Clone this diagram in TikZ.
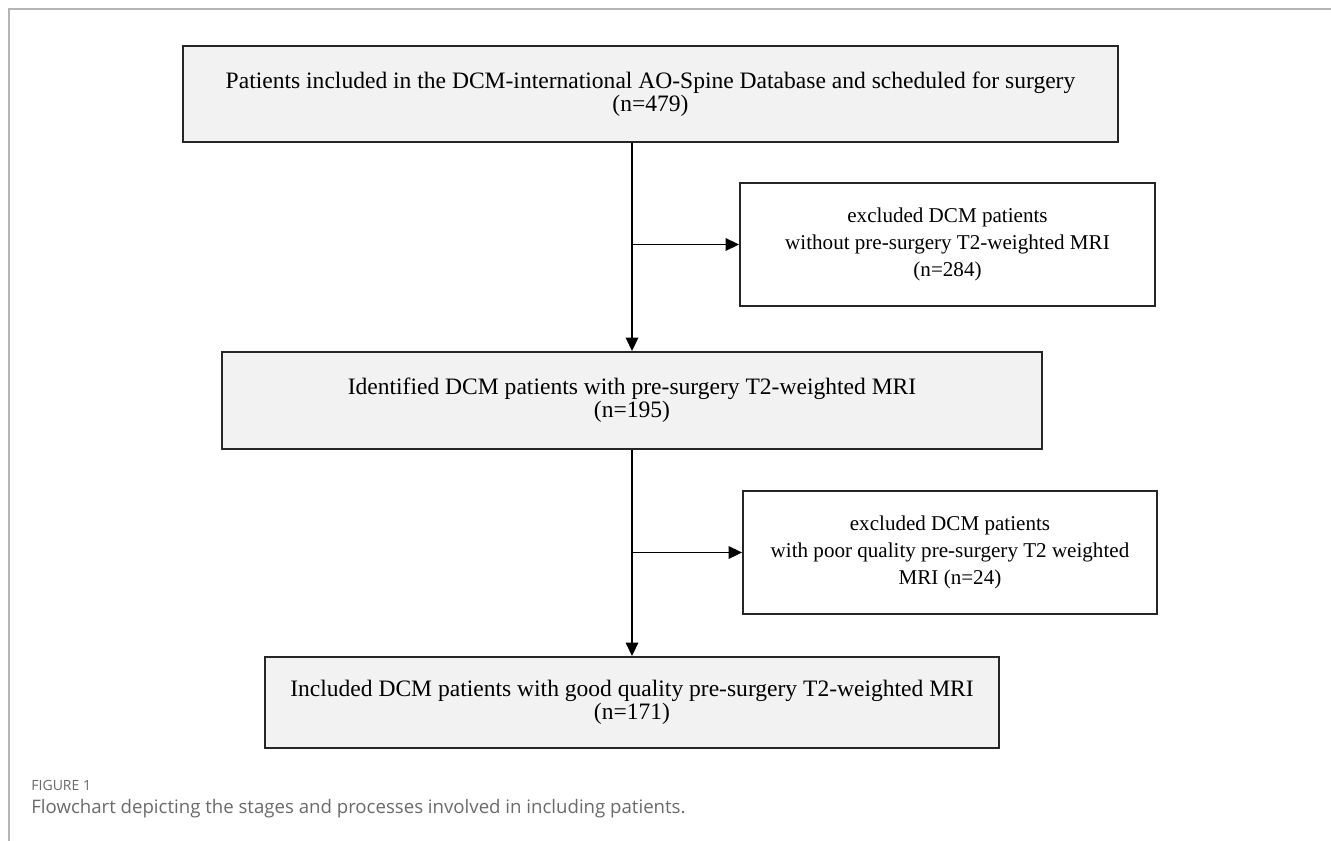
\documentclass[tikz,border=0pt]{standalone}
\usepackage{fontspec}
\setmainfont{Liberation Serif}
\newfontfamily\capfont{Open Sans}
\usetikzlibrary{arrows.meta, positioning}
\definecolor{boxgray}{HTML}{F2F2F2}
\definecolor{framegray}{HTML}{B4B4B4}
\definecolor{capgray}{HTML}{6A6A6A}

\begin{document}
\begin{tikzpicture}[x=0.02cm, y=-0.02cm,
    stage/.style={draw=black!85, line width=1.1pt, fill=boxgray, align=center,
        inner sep=0pt, font=\fontsize{13.4}{11.6}\selectfont},
    excl/.style={draw=black!85, line width=1.1pt, fill=white, align=center,
        inner sep=0pt, font=\fontsize{12}{15.4}\selectfont},
    flow/.style={line width=1pt, -{Triangle[length=0.27cm,width=0.25cm]}}]
    \useasboundingbox (0,0) rectangle (1331,841);

    % Frame
    \draw[framegray, line width=1pt] (9,841) -- (9,9) -- (1331,9);

    % Stages
    \node[stage, minimum width=18.7cm, minimum height=1.92cm] (patients) at (650.5,94)
        {Patients included in the DCM-international AO-Spine Database and scheduled for surgery\\(n=479)};
    \node[stage, minimum width=16.4cm, minimum height=1.94cm] (identified) at (632,400.5)
        {Identified DCM patients with pre-surgery T2-weighted MRI\\(n=195)};
    \node[stage, minimum width=14.7cm, minimum height=1.82cm] (included) at (632,702.5)
        {Included DCM patients with good quality pre-surgery T2-weighted MRI\\(n=171)};

    % Exclusions
    \node[excl, minimum width=8.3cm, minimum height=2.46cm] (nodata) at (947.5,244.5)
        {excluded DCM patients\\without pre-surgery T2-weighted MRI\\(n=284)};
    \node[excl, minimum width=8.28cm, minimum height=2.46cm] (poorq) at (950,552.5)
        {excluded DCM patients\\with poor quality pre-surgery T2 weighted\\MRI (n=24)};

    % Arrows
    \draw[flow] (identified.north |- patients.south) -- (identified.north);
    \draw[flow] (nodata.west -| identified.north) -- (nodata.west);
    \draw[flow] (included.north |- identified.south) -- (included.north);
    \draw[flow] (poorq.west -| included.north) -- (poorq.west);

    % Caption
    \node[anchor=base west, inner sep=0pt, capgray, font=\capfont\fontsize{8}{10}\selectfont]
        (figlabel) at (31,790) {FIGURE 1};
    \node[anchor=base west, inner sep=0pt, capgray, font=\capfont\fontsize{10.6}{12}\selectfont]
        (figcaption) at (31,813) {Flowchart depicting the stages and processes involved in including patients.};
\end{tikzpicture}
\end{document}
